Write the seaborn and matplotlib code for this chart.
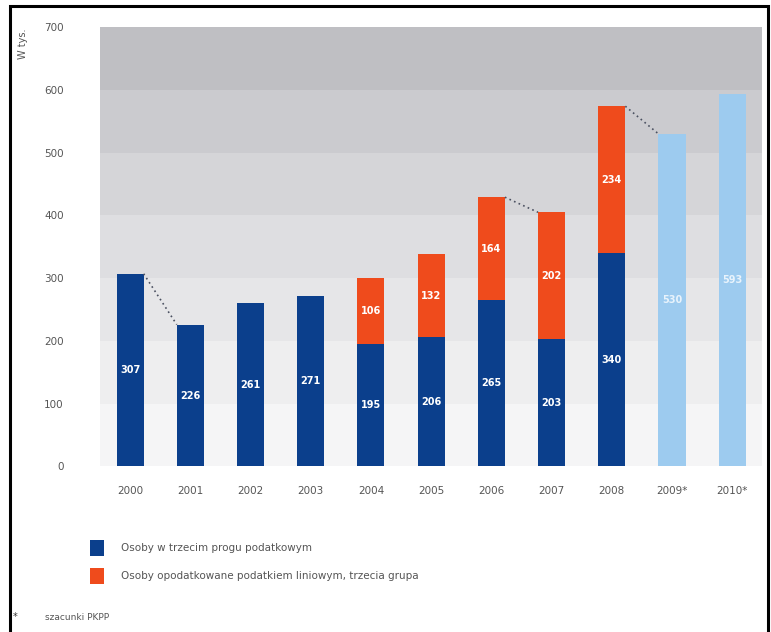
import matplotlib
matplotlib.use("Agg")
import matplotlib.pyplot as plt
import seaborn as sns
import pandas as pd
import numpy as np
from matplotlib.patches import Patch, Rectangle

# ---- data ----
years = ["2000", "2001", "2002", "2003", "2004", "2005", "2006", "2007", "2008", "2009*", "2010*"]
third_bracket = [307, 226, 261, 271, 195, 206, 265, 203, 340, 0, 0]
flat_tax = [0, 0, 0, 0, 106, 132, 164, 202, 234, 0, 0]
forecast = [0, 0, 0, 0, 0, 0, 0, 0, 0, 530, 593]
y_ticks = [0, 100, 200, 300, 400, 500, 600, 700]
legend_labels = ["Osoby w trzecim progu podatkowym",
                 "Osoby opodatkowane podatkiem liniowym, trzecia grupa"]
footnote = "szacunki PKPP"
y_unit = "W tys."

BLUE = "#0b3f8c"
ORANGE = "#ef4b1c"
LIGHT = "#9dcbef"

sns.set_style("white")
plt.rcParams["font.family"] = ["DejaVu Sans"]

df = pd.DataFrame({"year": years, "blue": third_bracket, "orange": flat_tax, "fc": forecast})
df["base"] = df["blue"] + df["fc"]
df["total"] = df["base"] + df["orange"]

fig = plt.figure(figsize=(7.71, 6.32), dpi=100)
ax = fig.add_axes([0.1297, 0.262, 0.859, 0.695])

# background bands (gradient of greys)
band_cols = ["#f5f5f6", "#eeeeef", "#e6e6e8", "#dedee1", "#d5d5d8", "#cbcbcf", "#bfbfc3"]
for i in range(len(y_ticks) - 1):
    ax.axhspan(y_ticks[i], y_ticks[i + 1], color=band_cols[i], zorder=0, lw=0)

pal = [BLUE if f == 0 else LIGHT for f in forecast]
sns.barplot(data=df, x="year", y="base", hue="year", palette=pal, legend=False,
            width=0.45, ax=ax, order=years, saturation=1, linewidth=0, zorder=2)
sns.barplot(data=df, x="year", y="orange", color=ORANGE, bottom=df["base"].values,
            width=0.45, ax=ax, order=years, saturation=1, linewidth=0, zorder=2)

# value labels
for i, r in df.iterrows():
    if r["blue"] > 0:
        ax.text(i, r["blue"] / 2, str(r["blue"]), ha="center", va="center",
                color="white", fontsize=7, fontweight="bold", zorder=3)
    if r["orange"] > 0:
        ax.text(i, r["blue"] + r["orange"] / 2, str(r["orange"]), ha="center", va="center",
                color="white", fontsize=7, fontweight="bold", zorder=3)
    if r["fc"] > 0:
        ax.text(i, r["fc"] / 2, str(r["fc"]), ha="center", va="center",
                color="#e8f3fc", fontsize=7, fontweight="bold", zorder=3)

# dotted connectors where the total drops
tot = df["total"].values
for i in range(len(tot) - 1):
    if tot[i + 1] < tot[i]:
        ax.plot([i + 0.225, i + 1 - 0.225], [tot[i], tot[i + 1]], ls=(0, (1, 2)),
                color="#4a5060", lw=1.2, zorder=3)

ax.set_xlim(-0.5, len(years) - 0.5)
ax.set_ylim(0, 700)
ax.set_yticks(y_ticks)
ax.set_yticklabels([str(v) for v in y_ticks])
ax.set_xlabel("")
ax.set_ylabel("")
ax.tick_params(axis="y", length=0, pad=26, labelsize=7.5, labelcolor="#555555")
ax.tick_params(axis="x", length=0, pad=14, labelsize=7.5, labelcolor="#555555")
for s in ax.spines.values():
    s.set_visible(False)

fig.text(0.030, 0.955, y_unit, rotation=90, fontsize=7, color="#555555", va="top", ha="center")

handles = [Patch(facecolor=BLUE, edgecolor="none"), Patch(facecolor=ORANGE, edgecolor="none")]
fig.legend(handles, legend_labels, loc="upper left", bbox_to_anchor=(0.105, 0.160),
           frameon=False, fontsize=7.5, handlelength=1.3, handleheight=1.9,
           labelspacing=1.2, handletextpad=1.6, labelcolor="#555555")

fig.text(0.017, 0.019, "*", fontsize=7, color="#333333")
fig.text(0.058, 0.019, footnote, fontsize=6.5, color="#555555")

# outer frame
fig.patches.append(Rectangle((0.013, -0.01), 0.983, 1.0, transform=fig.transFigure,
                             fill=False, edgecolor="black", lw=2.2))

fig.savefig("out.png", dpi=100)
